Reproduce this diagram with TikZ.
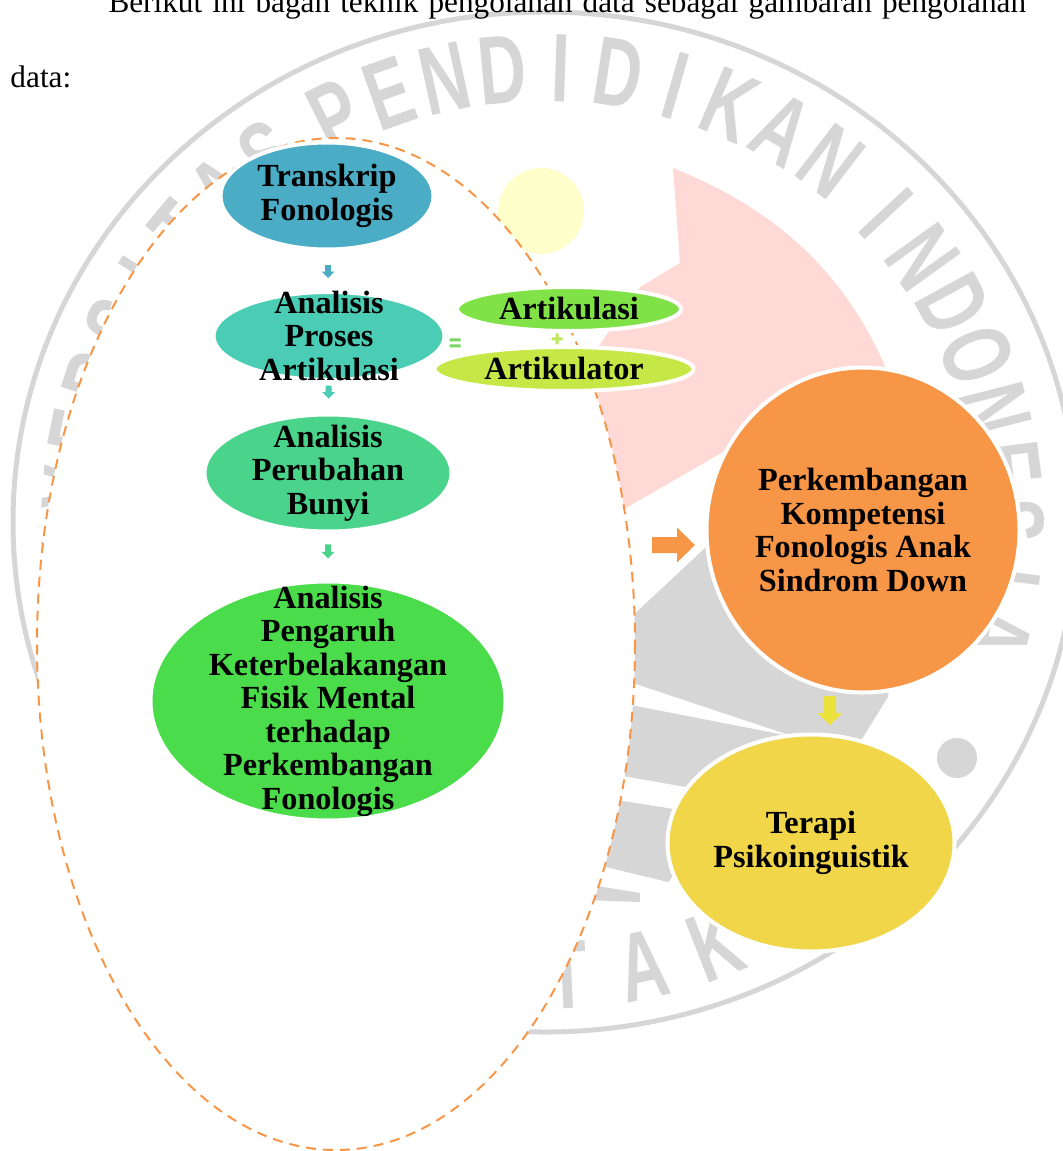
\documentclass[tikz,border=0pt]{standalone}
\usepackage{fontspec}
\setmainfont{Liberation Serif}
\newfontfamily\wmfont[FakeStretch=0.68]{Liberation Sans Bold}
\usetikzlibrary{shapes.geometric,calc}

\definecolor{wmgray}{RGB}{214,214,214}
\definecolor{wmpink}{RGB}{255,217,214}
\definecolor{wmyellow}{RGB}{255,255,204}
\definecolor{cTrans}{RGB}{75,172,198}
\definecolor{cProses}{RGB}{74,205,180}
\definecolor{cPerub}{RGB}{74,211,139}
\definecolor{cPengaruh}{RGB}{75,220,75}
\definecolor{cArtiku}{RGB}{128,226,70}
\definecolor{cArtor}{RGB}{197,232,70}
\definecolor{cPerk}{RGB}{247,150,70}
\definecolor{cTerapi}{RGB}{240,214,72}
\definecolor{cYarrow}{RGB}{236,226,60}
\definecolor{cEq}{RGB}{120,215,100}
\definecolor{cPlus}{RGB}{190,230,90}

\tikzset{
  blob/.style={ellipse, draw=white, line width=1.6pt, inner sep=0pt},
  lbl/.style={font=\bfseries\fontsize{12.9}{13.4}\selectfont, align=center, inner sep=0pt},
  wmletter/.style={text=wmgray, font=\wmfont\fontsize{39}{39}\selectfont, inner sep=0pt},
  bodytext/.style={anchor=base west, inner sep=0pt, font=\fontsize{12.5}{15}\selectfont},
  %half shaft / half head / half length / head length
  pics/blockdown/.style n args={4}{code={
    \fill (-#1,-#3) -- (#1,-#3) -- (#1,#3-#4) -- (#2,#3-#4) -- (0,#3)
          -- (-#2,#3-#4) -- (-#1,#3-#4) -- cycle;}}
}

\begin{document}
\begin{tikzpicture}[x=0.4pt, y=-0.4pt]
  \useasboundingbox (0,0) rectangle (1062,1151);
  %watermark ring and lettering
  \draw[wmgray, line width=2pt] (545,522) ellipse [x radius=532, y radius=510];
  \foreach \ch [count=\i from 0] in {U,N,I,V,E,R,S,I,T,A,S}
    \node[wmletter, rotate={107.1-7.1*\i}] at ({545+470*cos(197.1-7.1*\i)},{522-454*sin(197.1-7.1*\i)}) {\ch};
  \foreach \ch [count=\i from 0] in {P,E,N,D,I,D,I,K,A,N}
    \node[wmletter, rotate={26.5-7.1*\i}] at ({545+470*cos(116.5-7.1*\i)},{522-454*sin(116.5-7.1*\i)}) {\ch};
  \foreach \ch [count=\i from 0] in {I,N,D,O,N,E,S,I,A}
    \node[wmletter, rotate={-47.2-7.1*\i}] at ({545+465*cos(42.8-7.1*\i)},{522-454*sin(42.8-7.1*\i)}) {\ch};
  \foreach \ch [count=\i from 6] in {T,A,K}
    \node[wmletter, rotate={-53.1+9.3*\i}] at ({545+470*cos(-143.1+9.3*\i)},{522-454*sin(-143.1+9.3*\i)}) {\ch};
  \fill[wmgray] (957,758) circle [radius=8pt];
  %watermark logo
  \fill[wmpink] (673,168) .. controls (790,215) and (865,290) .. (905,420)
        -- (900,480) -- (780,430) -- (723,452) -- (600,523) -- (560,400)
        -- (603,340) -- (640,287) -- (680,263) -- cycle;
  \fill[wmyellow] (541,211) circle [radius=17.2pt];
  \fill[wmgray] (600,646) -- (705,548) -- (780,500) -- (900,560) -- (888,697)
        -- (860,742) -- (795,737) -- (600,672) -- cycle;
  \fill[wmgray] (600,699) -- (795,737) -- (760,800) -- (600,772) -- cycle;
  \fill[wmgray] (585,795) -- (680,810) -- (700,845) -- (668,882) -- (585,862) -- cycle;
  \fill[wmgray] (585,884) -- (640,893) -- (640,902) -- (585,900) -- cycle;

  %text above the chart
  \node[bodytext] (intro) at (108,13)
        {\makebox[367pt][s]{Berikut ini bagan teknik pengolahan data sebagai gambaran pengolahan}};
  \node[bodytext] (data) at (10,88) {data:};

  %dashed frame
  \draw[cPerk, fill=white, line width=0.8pt, dash pattern=on 4pt off 2.8pt]
        (336,644) ellipse [x radius=299, y radius=506];

  %analysis chain
  \node[blob, fill=cTrans, minimum width=85.2pt, minimum height=42.8pt,
        label={[lbl]center:{Transkrip\\Fonologis}}] (trans) at (327,196) {};
  \node[blob, fill=cProses, minimum width=92.4pt, minimum height=35.2pt,
        label={[lbl]center:{Analisis\\Proses\\Artikulasi}}] (proses) at (329,336) {};
  \node[blob, fill=cPerub, minimum width=98.8pt, minimum height=46.8pt,
        label={[lbl]center:{Analisis\\Perubahan\\Bunyi}}] (perub) at (328,473) {};
  \node[blob, fill=cPengaruh, minimum width=142pt, minimum height=95.6pt,
        label={[lbl]center:{Analisis\\Pengaruh\\Keterbelakangan\\Fisik Mental\\terhadap\\Perkembangan\\Fonologis}}] (pengaruh) at (328,701) {};
  \pic[fill=cTrans] (a1) at ($(trans.south)!0.52!(proses.north)$) {blockdown={3}{6.5}{6.5}{6.5}};
  \pic[fill=cProses] (a2) at ($(proses.south)!0.33!(perub.north)$) {blockdown={3}{6.5}{6.5}{6.5}};
  \pic[fill=cPerub] (a3) at ($(perub.south)!0.39!(pengaruh.north)$) {blockdown={3}{6.5}{7}{6.5}};

  %articulation = artikulasi + artikulator
  \node[blob, fill=cArtiku, minimum width=89.6pt, minimum height=17.6pt,
        label={[lbl]center:Artikulasi}] (artiku) at (569,309) {};
  \node[blob, fill=cArtor, minimum width=103.6pt, minimum height=17.6pt,
        label={[lbl]center:Artikulator}] (artor) at (564,369) {};
  \coordinate (eq) at (455,343);
  \fill[cEq] ($(eq)+(-5.5,-4.5)$) rectangle ($(eq)+(5.5,-1.5)$)
             ($(eq)+(-5.5,1.5)$) rectangle ($(eq)+(5.5,4.5)$);
  \coordinate (plus) at (557,339);
  \fill[cPlus] ($(plus)+(-5.5,-1.5)$) rectangle ($(plus)+(5.5,1.5)$)
               ($(plus)+(-1.5,-5.5)$) rectangle ($(plus)+(1.5,5.5)$);

  %outcome
  \node[blob, fill=cPerk, minimum width=125.2pt, minimum height=130pt,
        label={[lbl]center:{Perkembangan\\Kompetensi\\Fonologis Anak\\Sindrom Down}}] (perk) at (863,530) {};
  \node[blob, fill=cTerapi, minimum width=114.8pt, minimum height=86.8pt,
        label={[lbl]center:{Terapi\\Psikoinguistik}}] (terapi) at (811,843) {};
  \pic[fill=cPerk, rotate=90] (a4) at ($(perk.west)+(-31,15)$) {blockdown={8}{17.5}{21.5}{18}};
  \pic[fill=cYarrow] (a5) at ($(perk.south)+(-33,16)$) {blockdown={6}{12.5}{14.5}{12}};
\end{tikzpicture}
\end{document}
